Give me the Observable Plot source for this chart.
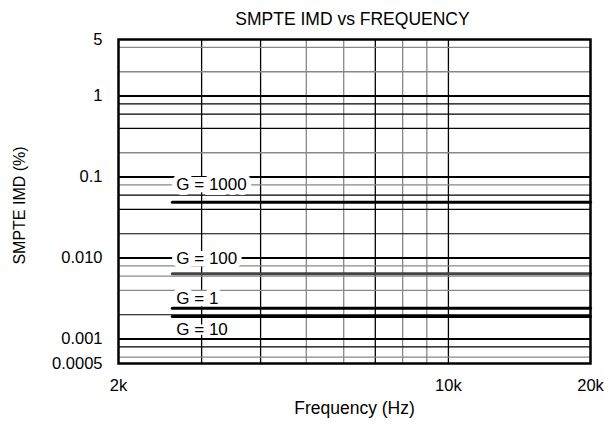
<!DOCTYPE html>
<html>
<head>
<meta charset="utf-8">
<script src="https://cdn.jsdelivr.net/npm/d3@7"></script>
<script src="https://cdn.jsdelivr.net/npm/@observablehq/plot@0.6"></script>
<style>
  html, body { margin: 0; padding: 0; background: white; }
  #title { width: 605px; box-sizing: border-box; padding-left: 100px; height: 28px;
           text-align: center; font: 17.5px/38px "Liberation Sans", Arial, sans-serif; color: #000; overflow: visible; }
  #chart svg { display: block; }
</style>
</head>
<body>
<div id="title">SMPTE IMD vs FREQUENCY</div>
<div id="chart"></div>
<script>
// Frequencies (Hz) at which the flat curves are read
const freqs = [2600, 5000, 10000, 20000];
// SMPTE IMD (%) per gain setting (flat)
const g1000 = [0.049, 0.049, 0.049, 0.049];
const g100  = [0.0064, 0.0064, 0.0064, 0.0064];
const g1    = [0.0024, 0.0024, 0.0024, 0.0024];
const g10   = [0.0019, 0.0019, 0.0019, 0.0019];

// Curve labels and where they sit
const labelText = ["G = 1000", "G = 100", "G = 1", "G = 10"];
const labelFreq = [2600, 2600, 2600, 2600];
const labelImd  = [0.082, 0.0099, 0.0032, 0.00131];

// Axis ticks
const xTicks = [2000, 10000, 20000];
const xTickLabels = ["2k", "10k", "20k"];
const yTicks = [5, 1, 0.1, 0.01, 0.001, 0.0005];
const yTickLabels = ["5", "1", "0.1", "0.010", "0.001", "0.0005"];

// Grid
const xGridBlack = [3000, 4000, 7000, 10000];
const xGridGray  = [5000, 6000, 8000, 9000];
const yGridDecade = [1, 0.1, 0.01, 0.001];
const yGridBlack = [0.8, 0.6, 0.4, 0.06, 0.04, 0.02, 0.002, 0.0008];
const yGridGray  = [4, 2, 0.2, 0.08, 0.008, 0.006, 0.004, 0.0006];

const series = [
  {name: "G = 1000", values: g1000, color: "#000"},
  {name: "G = 100", values: g100, color: "#444"},
  {name: "G = 1", values: g1, color: "#000"},
  {name: "G = 10", values: g10, color: "#000"}
];
const rows = series.flatMap(s => freqs.map((f, i) => ({series: s.name, f, v: s.values[i], color: s.color})));
const labels = labelText.map((t, i) => ({t, f: labelFreq[i], v: labelImd[i]}));
const xFmt = new Map(xTicks.map((d, i) => [d, xTickLabels[i]]));
const yRows = yTicks.map((d, i) => ({v: d, t: yTickLabels[i]}));

const labelStyle = {x: "f", y: "v", text: "t", textAnchor: "start", dx: 4, fontSize: 17,
  fill: "#000", stroke: "white", strokeLinejoin: "miter"};

const chart = Plot.plot({
  width: 605,
  height: 398,
  marginTop: 11,
  marginBottom: 63,
  marginLeft: 118,
  marginRight: 15,
  style: {fontFamily: "'Liberation Sans', Arial, sans-serif", fontSize: "16px", background: "white", color: "#000", overflow: "visible"},
  x: {type: "log", domain: [2000, 20000]},
  y: {type: "log", domain: [0.0005, 5], axis: null},
  marks: [
    Plot.ruleX(xGridGray, {stroke: "#888", strokeWidth: 1.3}),
    Plot.ruleX(xGridBlack, {stroke: "#000", strokeWidth: 1.3}),
    Plot.ruleY(yGridGray, {stroke: "#888", strokeWidth: 1.3}),
    Plot.ruleY(yGridBlack, {stroke: "#000", strokeWidth: 1.2}),
    Plot.ruleY(yGridDecade, {stroke: "#000", strokeWidth: 2}),
    Plot.text(labels, {...labelStyle, filter: (d, i) => i < 3, strokeWidth: 10}),
    Plot.text(labels, {...labelStyle, filter: (d, i) => i >= 3, strokeWidth: 5}),
    Plot.line(rows, {x: "f", y: "v", z: "series", stroke: "color", strokeWidth: 3}),
    Plot.axisX({ticks: xTicks, tickFormat: d => xFmt.get(d), tickSize: 0, tickPadding: 16, label: null, fontSize: 16.5}),
    Plot.text(yRows, {y: "v", text: "t", frameAnchor: "left", textAnchor: "end", dx: -16, fontSize: 16.5}),
    Plot.frame({stroke: "#000", strokeWidth: 2.5}),
    Plot.text(["Frequency (Hz)"], {text: d => d, frameAnchor: "bottom", dy: 50, fontSize: 17.5}),
    Plot.text(["SMPTE IMD (%)"], {text: d => d, frameAnchor: "left", textAnchor: "middle", rotate: -90, dx: -99, dy: 4, fontSize: 16})
  ]
});
document.getElementById("chart").appendChild(chart);
</script>
</body>
</html>
